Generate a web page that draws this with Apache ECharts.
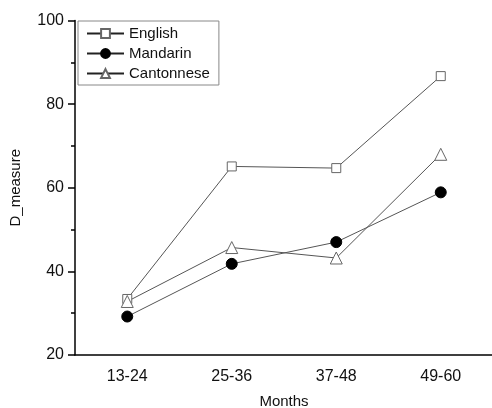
<!DOCTYPE html>
<html><head><meta charset="utf-8">
<script src="https://cdn.jsdelivr.net/npm/echarts@6/dist/echarts.min.js"></script>
<style>html,body{margin:0;padding:0;background:#fff}#c{width:492px;height:408px}</style>
</head><body><div id="c"></div>
<script>
const categories = ['13-24', '25-36', '37-48', '49-60'];
const english = [33.4, 65.1, 64.7, 86.7];
const mandarin = [29.2, 41.8, 47.0, 58.9];
const cantonese = [32.8, 45.7, 43.2, 68.0];
const yTicks = [20, 40, 60, 80, 100];

const FONT = 'Liberation Sans, Arial, sans-serif';
const lineGray = '#555';
const chart = echarts.init(document.getElementById('c'));
function ser(name, data, symbol, size, filled) {
  return {
    name, type: 'line', data, symbol, symbolSize: size,
    lineStyle: { color: lineGray, width: 1 },
    itemStyle: { color: filled ? '#000' : '#fff', borderColor: filled ? '#000' : '#666', borderWidth: 1 },
    emphasis: { disabled: true },
    z: 3
  };
}
chart.setOption({
  animation: false,
  textStyle: { fontFamily: FONT },
  grid: { left: 75, top: 20.5, width: 418, bottom: 53, containLabel: false, outerBoundsMode: 'none' },
  legend: {
    left: 78, top: 21, orient: 'vertical',
    padding: [5, 9, 4, 8], itemGap: 5, itemWidth: 37, itemHeight: 11,
    borderColor: '#888', borderWidth: 1,
    lineStyle: { color: '#222' },
    textStyle: { fontSize: 15, color: '#111', fontFamily: FONT },
    data: ['English', 'Mandarin', 'Cantonnese']
  },
  xAxis: [{
    type: 'category', data: categories, boundaryGap: true,
    name: 'Months', nameLocation: 'middle', nameGap: 39,
    nameTextStyle: { fontSize: 15, color: '#111' },
    axisLine: { lineStyle: { color: '#000', width: 1.5 } },
    axisTick: { alignWithLabel: true, length: 4, lineStyle: { color: '#000', width: 1.5 } },
    axisLabel: { fontSize: 16, color: '#111', margin: 14 },
    splitLine: { show: false }
  }, {
    type: 'category', data: categories, boundaryGap: true, position: 'bottom',
    axisLine: { show: false },
    axisTick: { length: 3, lineStyle: { color: '#000', width: 1.5 } },
    axisLabel: { show: false }, splitLine: { show: false }
  }],
  yAxis: {
    type: 'value', min: yTicks[0], max: yTicks[yTicks.length - 1], interval: 20,
    name: 'D_measure', nameLocation: 'middle', nameGap: 52, nameRotate: 90,
    nameTextStyle: { fontSize: 15, color: '#111' },
    axisLine: { show: true, lineStyle: { color: '#000', width: 1.5 } },
    axisTick: { show: true, length: 7, lineStyle: { color: '#000', width: 1.5 } },
    minorTick: { show: true, splitNumber: 2, length: 4, lineStyle: { color: '#000', width: 1.5 } },
    axisLabel: { fontSize: 16, color: '#111', margin: 11 },
    splitLine: { show: false }
  },
  series: [
    ser('English', english, 'rect', 9, false),
    ser('Mandarin', mandarin, 'circle', 11, true),
    ser('Cantonnese', cantonese, 'triangle', 12, false)
  ]
});
</script></body></html>
